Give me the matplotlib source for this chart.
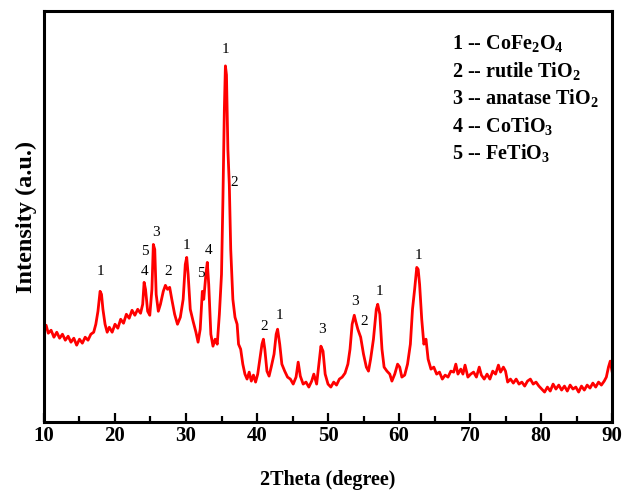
import matplotlib
matplotlib.use('Agg')
import matplotlib.pyplot as plt
from matplotlib.ticker import MultipleLocator

plt.rcParams['font.family'] = ['Liberation Serif', 'DejaVu Serif']
plt.rcParams['mathtext.fontset'] = 'custom'
plt.rcParams['mathtext.rm'] = 'Liberation Serif:bold'
plt.rcParams['mathtext.bf'] = 'Liberation Serif:bold'
plt.rcParams['mathtext.it'] = 'Liberation Serif:bold'

# XRD pattern (2theta in degrees, intensity in arbitrary units)
two_theta = [10.0, 10.3, 10.6, 11.0, 11.4, 11.8, 12.2, 12.6, 13.0, 13.4, 13.8, 14.2, 14.6, 15.0, 15.4, 15.8,
             16.2, 16.6, 17.0, 17.3, 17.6, 17.9, 18.1, 18.3, 18.6, 18.9, 19.2, 19.6, 20.0, 20.4, 20.8, 21.2,
             21.6, 22.0, 22.4, 22.8, 23.2, 23.6, 23.9, 24.1, 24.3, 24.6, 24.9, 25.2, 25.4, 25.6, 25.8, 26.1,
             26.4, 26.8, 27.1, 27.4, 27.7, 28.0, 28.4, 28.8, 29.2, 29.6, 29.9, 30.1, 30.3, 30.6, 31.0, 31.4,
             31.7, 32.0, 32.3, 32.5, 32.8, 33.0, 33.2, 33.5, 33.8, 34.1, 34.4, 34.7, 35.0, 35.2, 35.4, 35.55,
             35.7, 35.9, 36.1, 36.3, 36.6, 36.9, 37.2, 37.4, 37.7, 38.0, 38.3, 38.6, 38.9, 39.2, 39.5, 39.8,
             40.1, 40.4, 40.7, 40.9, 41.1, 41.4, 41.7, 42.0, 42.4, 42.7, 42.9, 43.2, 43.5, 43.9, 44.3, 44.7,
             45.1, 45.5, 45.8, 46.1, 46.5, 46.9, 47.3, 47.7, 48.0, 48.4, 48.8, 49.0, 49.3, 49.6, 50.0, 50.4,
             50.8, 51.2, 51.6, 52.0, 52.4, 52.8, 53.1, 53.4, 53.7, 53.9, 54.2, 54.6, 55.0, 55.4, 55.7, 56.0,
             56.4, 56.8, 57.0, 57.3, 57.6, 57.9, 58.3, 58.7, 59.0, 59.4, 59.8, 60.1, 60.4, 60.8, 61.2, 61.6,
             61.9, 62.2, 62.5, 62.7, 62.9, 63.2, 63.5, 63.8, 64.1, 64.5, 64.9, 65.3, 65.7, 66.1, 66.5, 66.9,
             67.3, 67.7, 68.0, 68.3, 68.7, 69.0, 69.3, 69.7, 70.1, 70.5, 70.9, 71.3, 71.6, 72.0, 72.4, 72.8,
             73.2, 73.6, 74.0, 74.3, 74.7, 75.0, 75.3, 75.7, 76.1, 76.5, 76.9, 77.3, 77.7, 78.1, 78.5, 78.9,
             79.3, 79.7, 80.1, 80.5, 80.9, 81.3, 81.7, 82.1, 82.5, 82.9, 83.3, 83.7, 84.1, 84.5, 84.9, 85.3,
             85.7, 86.1, 86.5, 86.9, 87.3, 87.7, 88.1, 88.5, 88.9, 89.2, 89.5, 89.75, 90.0]
intensity = [93, 97, 89, 92, 85, 90, 84, 88, 82, 86, 80, 84, 77, 83, 79, 85,
             82, 88, 90, 98, 111, 131, 128, 113, 98, 90, 95, 90, 98, 94, 103, 99,
             108, 104, 112, 107, 113, 109, 118, 140, 133, 111, 107, 133, 178, 173, 128, 111,
             118, 131, 137, 133, 135, 123, 108, 98, 105, 123, 158, 165, 148, 113, 101, 90,
             80, 93, 131, 123, 148, 160, 138, 88, 76, 83, 78, 108, 148, 223, 313, 357,
             348, 273, 238, 173, 123, 105, 98, 78, 73, 58, 48, 43, 50, 41, 47, 40,
             48, 63, 78, 83, 73, 51, 46, 55, 68, 88, 93, 78, 58, 51, 45, 43,
             38, 45, 60, 46, 38, 40, 35, 41, 48, 38, 63, 76, 71, 48, 38, 35,
             40, 37, 43, 45, 49, 58, 73, 98, 107, 101, 93, 85, 68, 55, 51, 63,
             83, 113, 118, 108, 73, 55, 51, 48, 41, 48, 58, 55, 45, 47, 58, 78,
             113, 133, 155, 153, 138, 103, 78, 83, 63, 53, 55, 48, 50, 43, 47, 45,
             51, 50, 58, 48, 53, 48, 57, 45, 48, 50, 45, 55, 47, 43, 48, 43,
             51, 48, 57, 50, 55, 51, 40, 43, 39, 43, 38, 40, 36, 41, 43, 38,
             40, 36, 33, 30, 35, 31, 38, 33, 37, 32, 36, 31, 37, 33, 35, 30,
             36, 32, 37, 34, 39, 35, 40, 37, 41, 45, 55, 61, 51]

# phase markers above the peaks
peak_pos = [18.0, 24.2, 24.2, 25.8, 27.5, 30.1, 32.1, 33.2, 35.6, 36.8, 41.0, 43.1, 49.2, 53.8, 55.1, 57.2, 62.7]
peak_height = [151, 171, 151, 190, 151, 177, 149, 172, 373, 240, 96, 107, 93, 121, 101, 131, 167]
peak_mark = ['1', '5', '4', '3', '2', '1', '5', '4', '1', '2', '2', '1', '3', '3', '2', '1', '1']

legend_lines = ['1 -- CoFe$_2$O$_4$', '2 -- rutile TiO$_2$', '3 -- anatase TiO$_2$',
                '4 -- CoTiO$_3$', '5 -- FeTiO$_3$']

fig = plt.figure(figsize=(6.24, 4.92), dpi=100)
ax = fig.add_axes([0.0705, 0.1423, 0.9103, 0.8353])
ax.plot(two_theta, intensity, color='red', lw=2.0)

for x, y, s in zip(peak_pos, peak_height, peak_mark):
    ax.text(x, y, s, ha='center', va='center', fontsize=11)

for i, s in enumerate(legend_lines):
    ax.text(0.719, 0.922 - i * 0.0669, s, transform=ax.transAxes, fontsize=14.5,
            fontweight='bold', ha='left', va='center')

ax.set_xlim(10, 90)
ax.set_ylim(0, 412)
ax.xaxis.set_major_locator(MultipleLocator(10))
ax.xaxis.set_minor_locator(MultipleLocator(5))
ax.set_yticks([])
ax.tick_params(axis='x', which='major', direction='in', length=6.5, width=1.6, pad=3, labelsize=15)
ax.tick_params(axis='x', which='minor', direction='in', length=4, width=1.6)
for lbl in ax.get_xticklabels():
    lbl.set_fontweight('bold')
for sp in ax.spines.values():
    sp.set_linewidth(2.2)

ax.set_xlabel('2Theta (degree)', fontsize=14.5, fontweight='bold', labelpad=17)
ax.set_ylabel('Intensity (a.u.)', fontsize=17.5, fontweight='bold', labelpad=5)

fig.savefig('out.png', dpi=100)
